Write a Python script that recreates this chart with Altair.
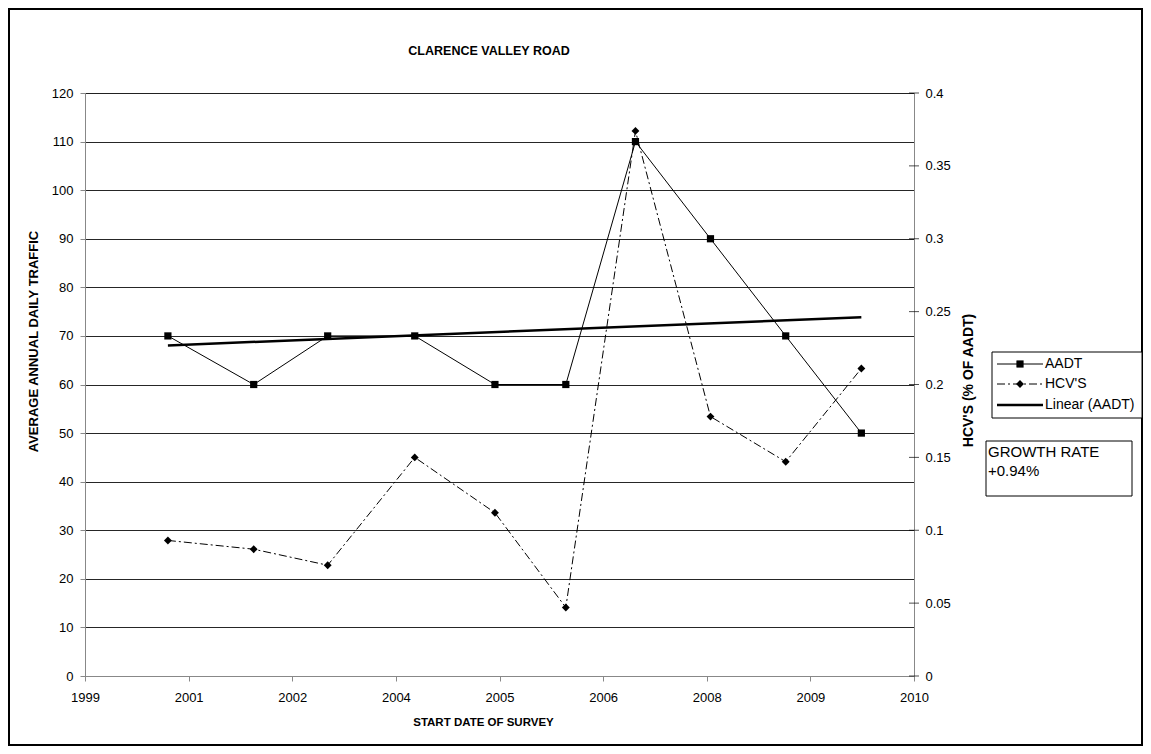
import altair as alt
import pandas as pd

# ---------------- data ----------------
survey_dates = ["2001-01-04", "2002-02-22", "2003-02-14", "2004-04-09", "2005-05-01",
                "2006-04-08", "2007-03-10", "2008-03-06", "2009-03-04", "2010-03-04"]
aadt = [70, 60, 70, 70, 60, 60, 110, 90, 70, 50]
hcv = [0.093, 0.087, 0.076, 0.150, 0.112, 0.047, 0.374, 0.178, 0.147, 0.211]
tick_start = "1999-12-01"          # Excel date axis: major unit 500 days
aadt_ticks = list(range(0, 121, 10))
hcv_ticks = [0, 0.05, 0.1, 0.15, 0.2, 0.25, 0.3, 0.35, 0.4]
legend_labels = ["AADT", "HCV'S", "Linear (AADT)"]
growth_lines = ["GROWTH RATE", "+0.94%"]
chart_title = "CLARENCE VALLEY ROAD"

df = pd.DataFrame({"date": survey_dates, "AADT": aadt, "HCV": hcv})
hcv_tick_df = pd.DataFrame({"HCV": hcv_ticks})
tick_dates = pd.date_range(tick_start, periods=9, freq="500D")


def dt(t):
    return alt.DateTime(year=int(t.year), month=int(t.month), date=int(t.day), utc=True)


tick_dt = [dt(t) for t in tick_dates]

FONT = "Liberation Sans"
W, H = 829, 583
DASHDOT = [8, 3, 2, 3]

x_enc = alt.X(
    "date:T",
    scale=alt.Scale(type="utc", domain=[tick_dt[0], tick_dt[-1]]),
    axis=alt.Axis(values=tick_dt, format="%Y", title="START DATE OF SURVEY", grid=False,
                  labelFlush=False, tickSize=5, labelPadding=10, labelFontSize=13,
                  titleFontSize=11.5, titleFontWeight="bold", titleX=398, titleY=46,
                  titleBaseline="middle", titleAlign="center"),
)

y_left_scale = alt.Scale(domain=[0, 120], nice=False, zero=True)
y_left = alt.Y(
    "AADT:Q", scale=y_left_scale,
    axis=alt.Axis(values=aadt_ticks, title="AVERAGE ANNUAL DAILY TRAFFIC", grid=True,
                  gridColor="#000000", gridWidth=1, gridOpacity=0.85, tickSize=5, labelPadding=7,
                  labelFontSize=13, titleFontSize=13, titleFontWeight="bold",
                  titleAngle=270, titleX=-52, titleY=248, titleAlign="center",
                  titleBaseline="middle"),
)
hcv_scale = alt.Scale(domain=[0, 0.4], nice=False, zero=True)
y_right = alt.Y(
    "HCV:Q", scale=hcv_scale,
    axis=alt.Axis(orient="right", values=hcv_ticks, format="~g", title="HCV'S (% OF AADT)",
                  grid=False, ticks=False, labelPadding=11, labelFontSize=13,
                  titleFontSize=14, titleFontWeight="bold", titleAngle=270, titleX=54,
                  titleY=287, titleAlign="center", titleBaseline="middle"),
)

base = alt.Chart(df)
aadt_line = base.mark_line(color="black", strokeWidth=1).encode(x=x_enc, y=y_left)
trend = base.transform_regression("date", "AADT").mark_line(
    color="black", strokeWidth=2.5).encode(x=x_enc, y=y_left)
aadt_pts = base.mark_point(shape="square", filled=True, size=52, color="black",
                           opacity=1).encode(x=x_enc, y=y_left)
left = alt.layer(aadt_line, trend, aadt_pts)

hcv_line = base.mark_line(color="black", strokeWidth=1, strokeDash=DASHDOT).encode(
    x=x_enc, y=y_right)
hcv_pts = base.mark_point(shape="diamond", filled=True, size=62, color="black",
                          opacity=1).encode(x=x_enc, y=y_right)
# cross-style ticks on the secondary axis
hcv_axis_ticks = alt.Chart(hcv_tick_df).mark_tick(
    color="black", size=10, thickness=1, orient="horizontal").encode(
    y=y_right, x=alt.value(W))
right = alt.layer(hcv_line, hcv_pts, hcv_axis_ticks)

one = pd.DataFrame({"k": [0]})


def text_at(s, x, y, size=13, weight="normal", align="left"):
    return alt.Chart(one).mark_text(text=s, font=FONT, fontSize=size, fontWeight=weight,
                                    align=align, baseline="middle", color="black").encode(
        x=alt.value(x), y=alt.value(y))


def box(x1, x2, y1, y2, sw=1, fill_op=1.0):
    return alt.Chart(one).mark_rect(fill="white", fillOpacity=fill_op, stroke="black",
                                    strokeWidth=sw).encode(
        x=alt.value(x1), x2=alt.value(x2), y=alt.value(y1), y2=alt.value(y2))


def rule(x1, x2, y, sw=1, dash=None):
    kw = dict(color="black", strokeWidth=sw)
    if dash:
        kw["strokeDash"] = dash
    return alt.Chart(one).mark_rule(**kw).encode(x=alt.value(x1), x2=alt.value(x2),
                                                  y=alt.value(y))


def marker(shape, x, y, size):
    return alt.Chart(one).mark_point(shape=shape, filled=True, size=size, color="black",
                                     opacity=1).encode(x=alt.value(x), y=alt.value(y))


outer = box(-76, 1057, -84, 652, sw=2, fill_op=0)
title = text_at(chart_title, 404, -42, size=12.5, weight="bold", align="center")

# legend
lx1, lx2, lmx, ltx = 912, 958, 935, 960
rows = [271, 291, 312]
legend = [
    box(907, 1057, 259, 325),
    rule(lx1, lx2, rows[0]), marker("square", lmx, rows[0], 52),
    rule(lx1, lx2, rows[1], dash=DASHDOT), marker("diamond", lmx, rows[1], 62),
    rule(lx1, lx2, rows[2], sw=2.5),
]
legend += [text_at(s, ltx, r, size=14) for s, r in zip(legend_labels, rows)]

growth = [box(901, 1047, 348, 403)]
growth += [text_at(s, 903, r, size=15) for s, r in zip(growth_lines, [359, 378])]

chart = alt.layer(outer, left, right, title, *legend, *growth).resolve_scale(
    y="independent"
).properties(
    width=W, height=H,
    autosize=alt.AutoSizeParams(type="none"),
    padding={"left": 77, "top": 85, "right": 229, "bottom": 70},
).configure_view(stroke="black", strokeWidth=1).configure_axis(
    labelFont=FONT, titleFont=FONT, labelColor="black", titleColor="black",
    domainColor="black", tickColor="black"
).configure(background="white")

chart.save("out.html", embed_options={"renderer": "svg", "actions": False})
